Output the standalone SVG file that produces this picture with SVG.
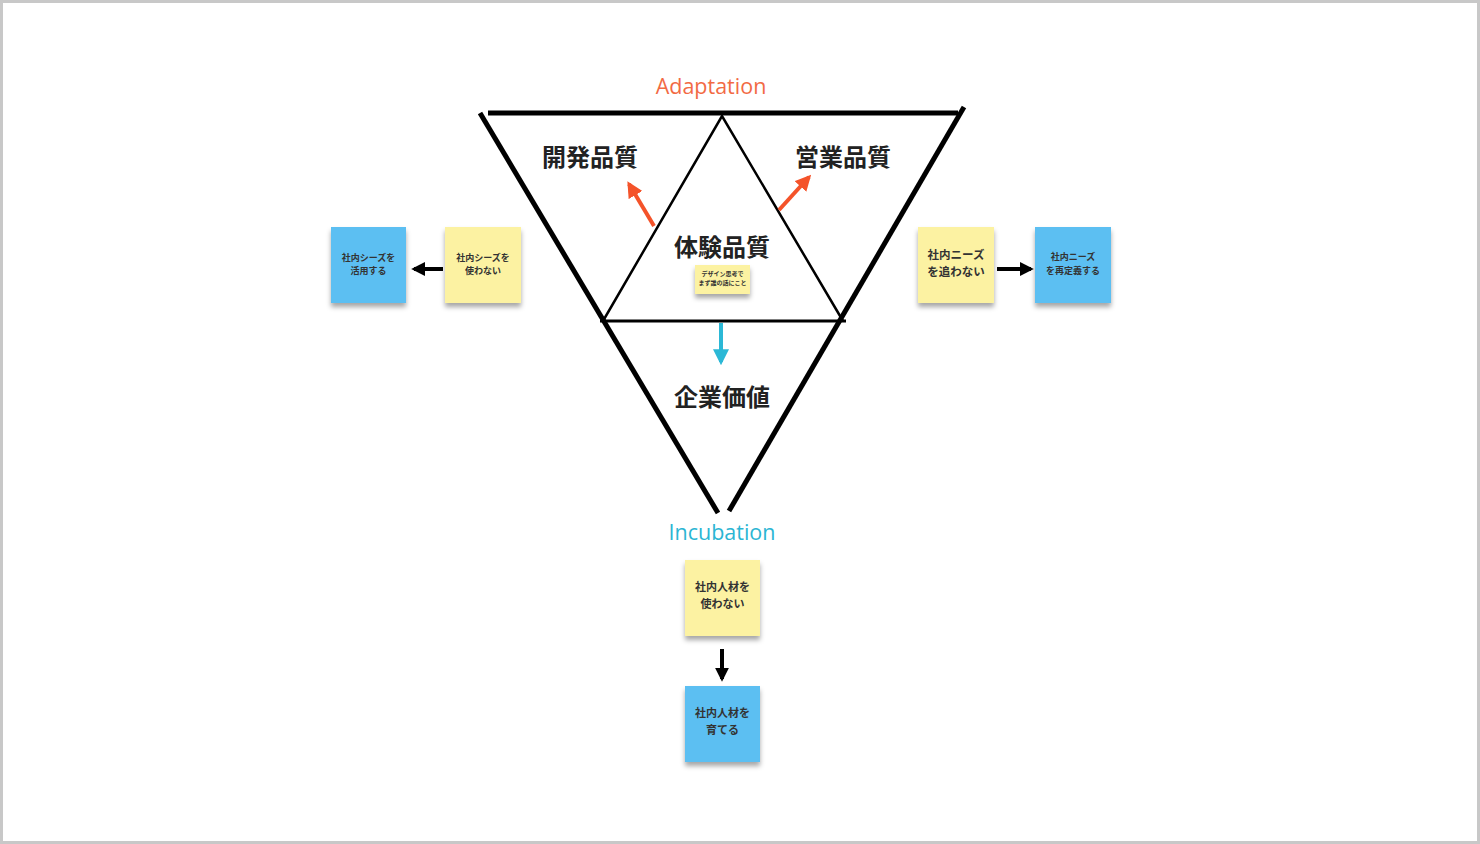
<svg xmlns="http://www.w3.org/2000/svg" width="1480" height="844" viewBox="0 0 1480 844">
<defs>
<style>
.jp{font-family:"Noto Sans CJK JP","Noto Sans",sans-serif;}
.title{font-size:24px;font-weight:bold;fill:#222;text-anchor:middle;}
.note{fill:#333;text-anchor:middle;font-weight:bold;}
.blue{fill:#5cbff2;}
.yellow{fill:#fcf2a2;}
.en{font-family:"Open Sans","Noto Sans",sans-serif;font-size:21.5px;text-anchor:middle;}
</style>
<filter id="sh" x="-20%" y="-20%" width="140%" height="150%">
<feDropShadow dx="0" dy="4" stdDeviation="2.5" flood-color="#000" flood-opacity="0.35"/>
</filter>
<marker id="ao" viewBox="0 0 10 10" refX="8" refY="5" markerWidth="4" markerHeight="4" orient="auto"><path d="M0,0 L10,5 L0,10 z" fill="#f4532a"/></marker>
<marker id="ac" viewBox="0 0 10 10" refX="8" refY="5" markerWidth="4" markerHeight="4" orient="auto"><path d="M0,0 L10,5 L0,10 z" fill="#2bb8d6"/></marker>
<marker id="ak" viewBox="0 0 10 10" refX="8" refY="5" markerWidth="3.5" markerHeight="3.5" orient="auto"><path d="M0,0 L10,5 L0,10 z" fill="#000"/></marker>
</defs>
<rect x="1.5" y="1.5" width="1477" height="841" fill="#fff" stroke="#c8c8c8" stroke-width="3"/>

<g id="frame" stroke="#000" fill="none" stroke-linecap="butt">
<line x1="488" y1="113" x2="958" y2="113" stroke-width="5"/>
<line x1="480" y1="113" x2="718" y2="513" stroke-width="5"/>
<line x1="964" y1="107" x2="729" y2="511" stroke-width="5"/>
<line x1="600" y1="321" x2="846" y2="321" stroke-width="3"/>
<polyline points="603,321 722,116 843,321" stroke-width="2.5"/>
</g>

<g id="labels">
<text class="en" x="711" y="94" fill="#f26a44">Adaptation</text>
<text class="en" x="722" y="540" fill="#2bb5d3">Incubation</text>
</g>

<g id="n-kaihatsu"><text class="jp title" x="590" y="166">開発品質</text></g>
<g id="n-eigyo"><text class="jp title" x="843" y="166">営業品質</text></g>
<g id="n-taiken"><text class="jp title" x="722" y="256">体験品質</text>
<rect x="695" y="265" width="55" height="29" class="yellow" filter="url(#sh)"/>
<text class="jp note" x="722.5" y="276" font-size="6">デザイン思考で</text>
<text class="jp note" x="722.5" y="285" font-size="6">まず誰の話にこと</text>
</g>
<g id="n-kigyo"><text class="jp title" x="722" y="406">企業価値</text></g>

<g id="connectors" fill="none">
<line x1="654" y1="226" x2="629" y2="184" stroke="#f4532a" stroke-width="4" marker-end="url(#ao)"/>
<line x1="779" y1="210" x2="809" y2="177" stroke="#f4532a" stroke-width="4" marker-end="url(#ao)"/>
<line x1="721" y1="323" x2="721" y2="362" stroke="#2bb8d6" stroke-width="4" marker-end="url(#ac)"/>
<line x1="443" y1="269" x2="414" y2="269" stroke="#000" stroke-width="4" marker-end="url(#ak)"/>
<line x1="997" y1="269" x2="1031" y2="269" stroke="#000" stroke-width="4" marker-end="url(#ak)"/>
<line x1="722" y1="649" x2="722" y2="679" stroke="#000" stroke-width="4" marker-end="url(#ak)"/>
</g>

<g id="s-left-blue"><rect x="331" y="227" width="75" height="76" class="blue" filter="url(#sh)"/>
<text class="jp note" x="368.5" y="261" font-size="9">社内シーズを</text>
<text class="jp note" x="368.5" y="274" font-size="9">活用する</text></g>
<g id="s-left-yellow"><rect x="445" y="227" width="76" height="76" class="yellow" filter="url(#sh)"/>
<text class="jp note" x="483" y="261" font-size="9">社内シーズを</text>
<text class="jp note" x="483" y="274" font-size="9">使わない</text></g>
<g id="s-right-yellow"><rect x="918" y="227" width="76" height="76" class="yellow" filter="url(#sh)"/>
<text class="jp note" x="956" y="259" font-size="11.5">社内ニーズ</text>
<text class="jp note" x="956" y="276" font-size="11.5">を追わない</text></g>
<g id="s-right-blue"><rect x="1035" y="227" width="76" height="76" class="blue" filter="url(#sh)"/>
<text class="jp note" x="1073" y="260" font-size="9">社内ニーズ</text>
<text class="jp note" x="1073" y="274" font-size="9">を再定義する</text></g>
<g id="s-bottom-yellow"><rect x="685" y="560" width="75" height="76" class="yellow" filter="url(#sh)"/>
<text class="jp note" x="722.5" y="591" font-size="11">社内人材を</text>
<text class="jp note" x="722.5" y="608" font-size="11">使わない</text></g>
<g id="s-bottom-blue"><rect x="685" y="686" width="75" height="76" class="blue" filter="url(#sh)"/>
<text class="jp note" x="722.5" y="717" font-size="11">社内人材を</text>
<text class="jp note" x="722.5" y="734" font-size="11">育てる</text></g>
</svg>
